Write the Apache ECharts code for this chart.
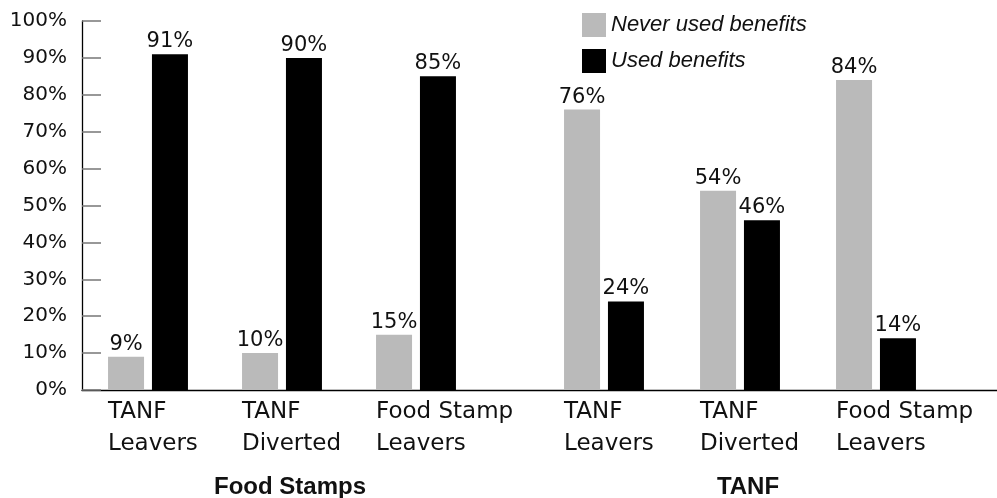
<!DOCTYPE html>
<html>
<head>
<meta charset="utf-8">
<script src="https://cdn.jsdelivr.net/npm/echarts@6/dist/echarts.min.js"></script>
<style>
  html, body { margin: 0; padding: 0; background: #fff; }
  #chart { width: 997px; height: 498px; }
</style>
</head>
<body>
<div id="chart"></div>
<script>
// ---- data ----
const categories = ['TANF\nLeavers', 'TANF\nDiverted', 'Food Stamp\nLeavers'];
const groupNames = ['Food Stamps', 'TANF'];
const seriesNames = ['Never used benefits', 'Used benefits'];
const neverFoodStamps = [9, 10, 15];
const usedFoodStamps = [91, 90, 85];
const neverTANF = [76, 54, 84];
const usedTANF = [24, 46, 14];
const yMin = 0, yMax = 100, yStep = 10;

// ---- styling ----
const FONT = '"DejaVu Sans", Verdana, sans-serif';
const FONT2 = '"Liberation Sans", Arial, Helvetica, sans-serif';
const GRAY = '#bababa';
const BLACK = '#000000';
const TOP = 21, BOTTOM = 108;

const chart = echarts.init(document.getElementById('chart'), null, { renderer: 'canvas' });

function hiddenY(gridIndex) {
  return { type: 'value', gridIndex, min: yMin, max: yMax, interval: yStep, show: false };
}
function groupX(gridIndex, name) {
  return {
    type: 'category', gridIndex, data: categories,
    axisLine: { show: false }, axisTick: { show: false },
    axisLabel: {
      interval: 0, align: 'left', margin: 6,
      padding: [0, 0, 0, -40],
      fontFamily: FONT, fontSize: 23, lineHeight: 32, color: '#111'
    },
    name: name, nameLocation: 'middle', nameGap: 85,
    nameTextStyle: { fontFamily: FONT2, fontSize: 24, fontWeight: 'bold', color: '#111', padding: [0, 0, 0, 16] }
  };
}
function barLabel() {
  return { show: true, position: 'top', distance: 2, formatter: '{c}%', fontFamily: FONT, fontSize: 21, color: '#111' };
}
function barSeries(name, data, idx, color) {
  return {
    name, type: 'bar', data, xAxisIndex: idx, yAxisIndex: idx,
    barWidth: 36, barGap: '22%', itemStyle: { color },
    label: barLabel(), animation: false
  };
}

const option = {
  animation: false,
  backgroundColor: '#ffffff',
  legend: {
    data: seriesNames, orient: 'vertical', left: 582, top: 13, padding: 0,
    itemWidth: 24, itemHeight: 24, itemGap: 12, icon: 'rect',
    textStyle: { fontFamily: FONT2, fontSize: 22, fontStyle: 'italic', color: '#111' },
    selectedMode: false
  },
  grid: [
    { left: 82, right: 0, top: TOP, bottom: BOTTOM, outerBoundsMode: 'none' },
    { left: 81, width: 402, top: TOP, bottom: BOTTOM, outerBoundsMode: 'none' },
    { left: 536, width: 408, top: TOP, bottom: BOTTOM, outerBoundsMode: 'none' }
  ],
  xAxis: [
    { type: 'value', gridIndex: 0, min: 0, max: 1,
      axisLine: { show: true, lineStyle: { color: '#000', width: 1.3 } },
      axisTick: { show: false }, axisLabel: { show: false }, splitLine: { show: false } },
    groupX(1, groupNames[0]),
    groupX(2, groupNames[1])
  ],
  yAxis: [
    { type: 'value', gridIndex: 0, min: yMin, max: yMax, interval: yStep,
      axisLine: { show: true, lineStyle: { color: '#000', width: 1.3 } },
      axisTick: { show: true, inside: true, length: 19, lineStyle: { color: '#777', width: 1.5 } },
      splitLine: { show: false },
      axisLabel: { formatter: '{value}%', margin: 15, fontFamily: FONT, fontSize: 20, color: '#111' } },
    hiddenY(1),
    hiddenY(2)
  ],
  series: [
    barSeries(seriesNames[0], neverFoodStamps, 1, GRAY),
    barSeries(seriesNames[1], usedFoodStamps, 1, BLACK),
    barSeries(seriesNames[0], neverTANF, 2, GRAY),
    barSeries(seriesNames[1], usedTANF, 2, BLACK)
  ]
};
chart.setOption(option);
</script>
</body>
</html>
